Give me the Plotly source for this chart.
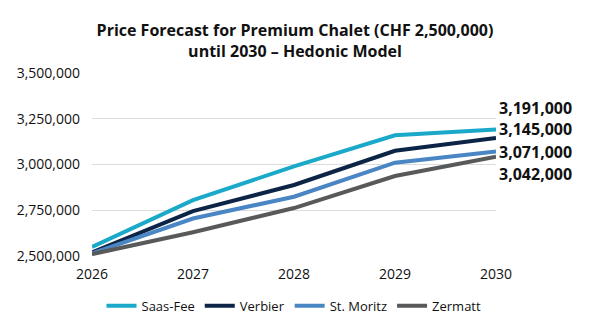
import plotly.graph_objects as go

years = [2026, 2027, 2028, 2029, 2030]
saas_fee = [2550000, 2805000, 2990000, 3160000, 3191000]
verbier = [2520000, 2745000, 2888000, 3075000, 3145000]
st_moritz = [2515000, 2705000, 2824000, 3010000, 3071000]
zermatt = [2510000, 2630000, 2762000, 2937000, 3042000]

series = [
    ("Saas-Fee", saas_fee, "#1aa9c8", 22),
    ("Verbier", verbier, "#0c2446", 9),
    ("St. Moritz", st_moritz, "#4a85c4", 0),
    ("Zermatt", zermatt, "#58595b", -17),
]

font_family = "Open Sans, Noto Sans, sans-serif"

fig = go.Figure()
for name, vals, color, _ in series:
    fig.add_trace(go.Scatter(
        x=years, y=vals, name=name, mode="lines",
        line=dict(color=color, width=4),
    ))

# end-of-line value labels
for name, vals, color, shift in series:
    fig.add_annotation(
        x=years[-1], y=vals[-1], xref="x", yref="y",
        text=f"<b>{vals[-1]:,}</b>", showarrow=False,
        xanchor="left", yanchor="middle", xshift=1, yshift=shift,
        font=dict(family=font_family, size=16, color="#111111"),
    )

fig.update_layout(
    width=590, height=329,
    margin=dict(l=92, r=94, t=73, b=73, autoexpand=False),
    paper_bgcolor="white", plot_bgcolor="white",
    title=dict(
        text="<b>Price Forecast for Premium Chalet (CHF 2,500,000)<br>until 2030 – Hedonic Model</b>",
        x=0.5, xanchor="center", y=0.891, yanchor="top",
        font=dict(family=font_family, size=16, color="#111111"),
    ),
    xaxis=dict(
        range=[2026, 2030], tickvals=years, ticktext=[str(y) for y in years],
        showgrid=False, zeroline=False, showline=False, ticks="",
        ticklabelstandoff=8, automargin=False,
        tickfont=dict(family=font_family, size=14, color="#111111"),
    ),
    yaxis=dict(
        range=[2500000, 3500000], tickvals=[2500000, 2750000, 3000000, 3250000, 3500000],
        tickformat=",d", showgrid=True, gridcolor="#dcdcdc", gridwidth=1,
        zeroline=False, showline=False, ticks="",
        ticklabelstandoff=11, automargin=False,
        tickfont=dict(family=font_family, size=14, color="#111111"),
    ),
    legend=dict(
        orientation="h", x=0.5, xanchor="center", y=-0.19, yanchor="top",
        font=dict(family=font_family, size=13, color="#111111"),
        itemwidth=30, traceorder="normal",
    ),
    showlegend=True,
)

fig.write_html("out.html")
